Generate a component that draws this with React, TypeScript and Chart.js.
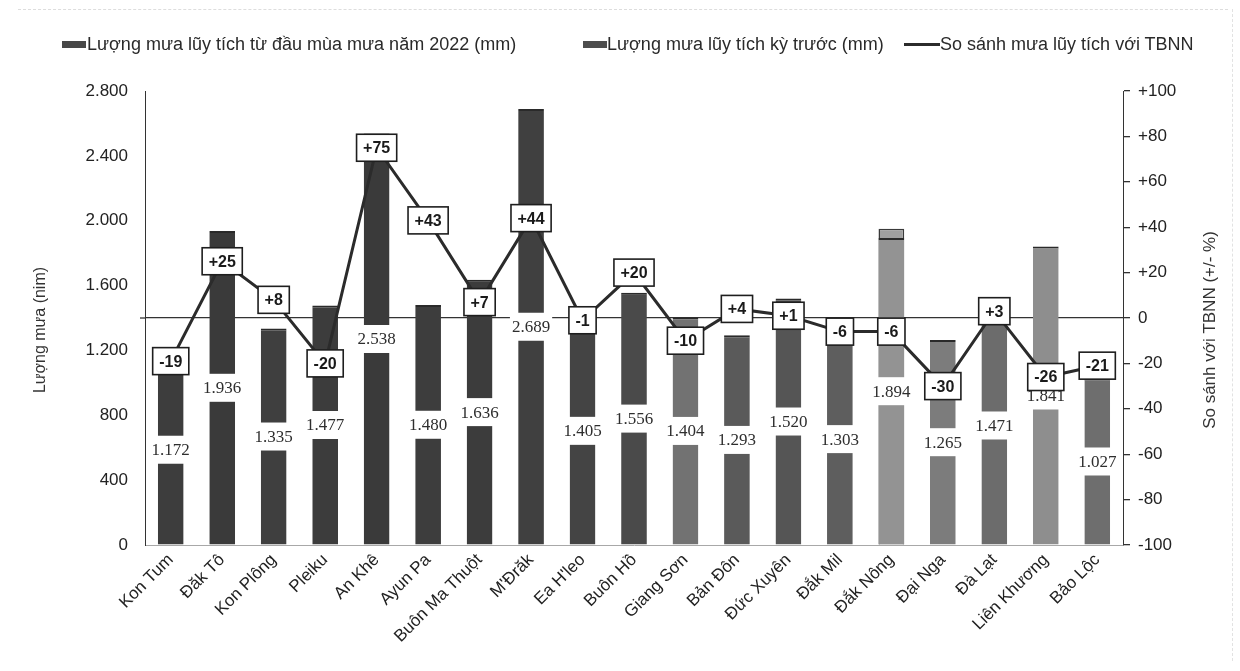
import React, { useEffect, useRef } from "react";
import { Chart, registerables } from "chart.js";

Chart.register(...registerables);

const categories = [
  "Kon Tum", "Đăk Tô", "Kon Plông", "Pleiku", "An Khê", "Ayun Pa", "Buôn Ma Thuột",
  "M'Đrăk", "Ea H'leo", "Buôn Hồ", "Giang Sơn", "Bản Đôn", "Đức Xuyên", "Đắk Mil",
  "Đắk Nông", "Đại Nga", "Đà Lạt", "Liên Khương", "Bảo Lộc",
];
const rain2022 = [1172, 1936, 1335, 1477, 2538, 1480, 1636, 2689, 1405, 1556, 1404, 1293, 1520, 1303, 1894, 1265, 1471, 1841, 1027];
const rainPrev: (number | null)[] = [null, null, null, null, null, null, null, null, null, null, null, null, null, null, 1950, null, null, null, null];
const compareTBNN = [-19, 25, 8, -20, 75, 43, 7, 44, -1, 20, -10, 4, 1, -6, -6, -30, 3, -26, -21];
const leftTicks = [0, 400, 800, 1200, 1600, 2000, 2400, 2800];
const rightTicks = [-100, -80, -60, -40, -20, 0, 20, 40, 60, 80, 100];

const barColors = [
  "#3d3d3d", "#3a3a3a", "#3f3f3f", "#3c3c3c", "#3a3a3a", "#3d3d3d", "#3c3c3c", "#404040",
  "#444444", "#4a4a4a", "#727272", "#5a5a5a", "#555555", "#5e5e5e", "#939393", "#7c7c7c",
  "#6c6c6c", "#8e8e8e", "#6e6e6e",
];

const SANS = '"Liberation Sans", Arial, sans-serif';
const SERIF = '"Liberation Serif", "Times New Roman", serif';

const fmtThousands = (v: number) => {
  const s = Math.round(v).toString();
  if (s.length <= 3) return s;
  return s.slice(0, s.length - 3) + "." + s.slice(s.length - 3);
};
const fmtSigned = (v: number) => (v > 0 ? "+" + v : "" + v);

const labelPlugin = {
  id: "customLabels",
  afterDatasetDraw(chart: any, args: any) {
    if (args.index !== 0) return;
    const ctx = chart.ctx;
    const meta = chart.getDatasetMeta(0);
    ctx.save();
    ctx.font = `17px ${SERIF}`;
    ctx.textAlign = "center";
    ctx.textBaseline = "middle";
    meta.data.forEach((bar: any, i: number) => {
      const { x, y, base } = bar.getProps(["x", "y", "base"], true);
      const cy = (y + base) / 2;
      const text = fmtThousands(rain2022[i]);
      const w = ctx.measureText(text).width;
      ctx.fillStyle = "#ffffff";
      ctx.fillRect(x - w / 2 - 2, cy - 14, w + 4, 28);
      ctx.fillStyle = "#2e2e2e";
      ctx.fillText(text, x, cy + 1);
    });
    ctx.restore();
  },
  afterDatasetsDraw(chart: any) {
    const ctx = chart.ctx;
    const meta = chart.getDatasetMeta(2);
    ctx.save();
    ctx.font = `bold 16px ${SANS}`;
    ctx.textAlign = "center";
    ctx.textBaseline = "middle";
    meta.data.forEach((pt: any, i: number) => {
      const { x, y } = pt.getProps(["x", "y"], true);
      const text = fmtSigned(compareTBNN[i]);
      const w = ctx.measureText(text).width + 13;
      const h = 27;
      ctx.fillStyle = "#ffffff";
      ctx.fillRect(x - w / 2, y - h / 2, w, h);
      ctx.lineWidth = 1.6;
      ctx.strokeStyle = "#1e1e1e";
      ctx.strokeRect(x - w / 2, y - h / 2, w, h);
      ctx.fillStyle = "#1a1a1a";
      ctx.fillText(text, x, y + 1);
    });
    ctx.restore();
  },
  afterDraw(chart: any) {
    const ctx = chart.ctx;
    const area = chart.chartArea;
    const cy = (area.top + area.bottom) / 2 + 12;
    ctx.save();
    ctx.font = `16px ${SANS}`;
    ctx.fillStyle = "#333333";
    ctx.textAlign = "center";
    ctx.textBaseline = "middle";
    ctx.translate(41, cy);
    ctx.rotate(-Math.PI / 2);
    ctx.fillText("Lượng mưa (nim)", 0, 0);
    ctx.restore();
    ctx.save();
    ctx.font = `17px ${SANS}`;
    ctx.fillStyle = "#333333";
    ctx.textAlign = "center";
    ctx.textBaseline = "middle";
    ctx.translate(1210, cy);
    ctx.rotate(-Math.PI / 2);
    ctx.fillText("So sánh với TBNN (+/- %)", 0, 0);
    ctx.restore();
    // zero line stub left of the axis
    const yZero = chart.scales.y1.getPixelForValue(0);
    ctx.save();
    ctx.strokeStyle = "#333333";
    ctx.lineWidth = 1.3;
    ctx.beginPath();
    ctx.moveTo(area.left - 5, yZero);
    ctx.lineTo(area.left, yZero);
    ctx.stroke();
    ctx.restore();
  },
};

export default function App() {
  const canvasRef = useRef<HTMLCanvasElement | null>(null);

  useEffect(() => {
    if (!canvasRef.current) return;
    const chart = new Chart(canvasRef.current, {
      type: "bar",
      data: {
        labels: categories,
        datasets: [
          {
            type: "bar",
            label: "Lượng mưa lũy tích từ đầu mùa mưa năm 2022 (mm)",
            data: rain2022,
            backgroundColor: barColors,
            borderColor: "#2a2a2a",
            borderWidth: { top: 2, left: 0, right: 0, bottom: 0 },
            borderSkipped: "bottom",
            barPercentage: 0.5,
            categoryPercentage: 1,
            grouped: false,
            yAxisID: "y",
            order: 1,
          } as any,
          {
            type: "bar",
            label: "Lượng mưa lũy tích kỳ trước (mm)",
            data: rainPrev,
            backgroundColor: "#a0a0a0",
            borderColor: "#3a3a3a",
            borderWidth: 1.5,
            barPercentage: 0.5,
            categoryPercentage: 1,
            grouped: false,
            yAxisID: "y",
            order: 2,
          } as any,
          {
            type: "line",
            label: "So sánh mưa lũy tích với TBNN",
            data: compareTBNN,
            borderColor: "#2b2b2b",
            borderWidth: 3,
            pointRadius: 0,
            tension: 0,
            yAxisID: "y1",
            order: 0,
          } as any,
        ],
      },
      options: {
        responsive: false,
        animation: false,
        layout: { padding: { top: 91, left: 0, right: 0, bottom: 0 } },
        plugins: {
          legend: { display: false },
          tooltip: { enabled: false },
        },
        scales: {
          x: {
            grid: { display: false, drawTicks: false },
            border: { display: true, color: "#a8a8a8", width: 1 },
            ticks: {
              autoSkip: false,
              minRotation: 45,
              maxRotation: 45,
              padding: 5,
              color: "#222222",
              font: { family: SANS, size: 17 },
            },
            afterFit: (axis: any) => {
              axis.height = 126;
            },
          },
          y: {
            position: "left",
            min: 0,
            max: 2800,
            afterBuildTicks: (axis: any) => {
              axis.ticks = leftTicks.map((v) => ({ value: v }));
            },
            grid: { display: true, drawOnChartArea: false, drawTicks: false },
            border: { display: true, color: "#333333", width: 1 },
            ticks: {
              padding: 17,
              color: "#222222",
              font: { family: SANS, size: 17 },
              callback: (v: any) => fmtThousands(Number(v)),
            },
            afterFit: (axis: any) => {
              axis.width = 145;
            },
          },
          y1: {
            position: "right",
            min: -100,
            max: 100,
            afterBuildTicks: (axis: any) => {
              axis.ticks = rightTicks.map((v) => ({ value: v }));
            },
            grid: {
              display: true,
              drawOnChartArea: true,
              drawTicks: true,
              tickLength: 7,
              tickColor: "#333333",
              lineWidth: 1.3,
              color: (c: any) => (c.tick && c.tick.value === 0 ? "#333333" : "rgba(0,0,0,0)"),
            },
            border: { display: true, color: "#333333", width: 1 },
            ticks: {
              padding: 8,
              color: "#222222",
              font: { family: SANS, size: 17 },
              callback: (v: any) => fmtSigned(Number(v)),
            },
            afterFit: (axis: any) => {
              axis.width = 117;
            },
          },
        },
      },
      plugins: [labelPlugin],
    });
    return () => chart.destroy();
  }, []);

  const legendText: React.CSSProperties = {
    position: "absolute",
    top: 33,
    fontFamily: SANS,
    fontSize: 18,
    color: "#2a2a2a",
    whiteSpace: "nowrap",
    lineHeight: "22px",
  };

  return (
    <div
      style={{
        position: "fixed",
        left: 0,
        top: 0,
        width: 1240,
        height: 671,
        background: "#ffffff",
        overflow: "hidden",
      }}
    >
      <div style={{ position: "absolute", left: 18, right: 12, top: 9, borderTop: "1px dashed #dddddd" }} />
      <div style={{ position: "absolute", right: 7, top: 9, bottom: 10, borderRight: "1px dashed #e2e2e2" }} />
      <canvas ref={canvasRef} width={1240} height={671} style={{ position: "absolute", left: 0, top: 0 }} />
      <div style={{ position: "absolute", left: 62, top: 41, width: 24, height: 7, background: "#474747" }} />
      <div style={{ ...legendText, left: 87 }}>Lượng mưa lũy tích từ đầu mùa mưa năm 2022 (mm)</div>
      <div style={{ position: "absolute", left: 583, top: 41, width: 24, height: 7, background: "#4d4d4d" }} />
      <div style={{ ...legendText, left: 607 }}>Lượng mưa lũy tích kỳ trước (mm)</div>
      <div style={{ position: "absolute", left: 904, top: 43, width: 36, height: 3, background: "#2b2b2b" }} />
      <div style={{ ...legendText, left: 940 }}>So sánh mưa lũy tích với TBNN</div>
    </div>
  );
}
